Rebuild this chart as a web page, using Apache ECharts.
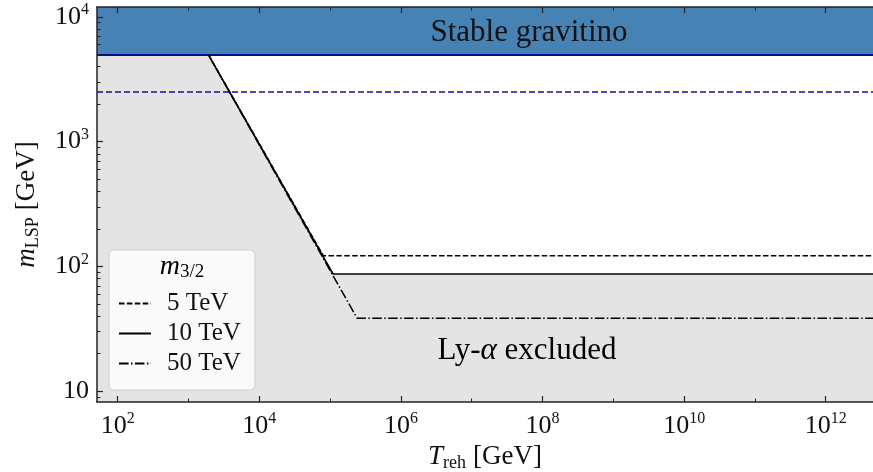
<!DOCTYPE html>
<html>
<head>
<meta charset="utf-8">
<script src="https://cdn.jsdelivr.net/npm/echarts@6/dist/echarts.min.js"></script>
<style>
  html, body { margin: 0; padding: 0; background: #fff; }
  #chart { width: 873px; height: 472px; }
</style>
</head>
<body>
<div id="chart"></div>
<script>
// Axis ranges (reheating temperature in GeV, LSP mass in GeV)
const xRange = [51, 4.65e12];
const yRange = [8.2, 12000];

// Tick values
const xMajorTicks = [1e2, 1e4, 1e6, 1e8, 1e10, 1e12];
const xMinorTicks = [1e3, 1e5, 1e7, 1e9, 1e11];
const yMajorTicks = [10, 100, 1000, 10000];
const yMinorTicks = [
  9, 20, 30, 40, 50, 60, 70, 80, 90,
  200, 300, 400, 500, 600, 700, 800, 900,
  2000, 3000, 4000, 5000, 6000, 7000, 8000, 9000
];

// Stable-gravitino region starts at this LSP mass
const gravitinoMass = 5000;
// Horizontal blue dashed reference level
const blueDashedMass = 2500;

// Boundary curves for each gravitino mass: [T_reh, m_LSP]
const legendNames = ['5 TeV', '10 TeV', '50 TeV'];
const curve5TeV = [[1.9e3, 5000], [8.0e4, 122], [4.65e12, 122]];
const curve10TeV = [[1.9e3, 5000], [1.1e5, 87], [4.65e12, 87]];
const curve50TeV = [[1.9e3, 5000], [2.4e5, 38.5], [4.65e12, 38.5]];

// Lyman-alpha excluded region (upper edge)
const lyaEdge = [[51, 5000], [1.9e3, 5000], [1.1e5, 87], [4.65e12, 87]];

const serif = '"Liberation Serif", "DejaVu Serif", serif';
const ink = '#111';

const chart = echarts.init(document.getElementById('chart'), null, { renderer: 'canvas' });

function powLabel(v) {
  const e = Math.round(Math.log10(v));
  if (e === 1) return '{b|10}';
  return '{b|10}{p|' + e + '}';
}
const tickRich = {
  b: { fontSize: 26, fontFamily: serif, color: ink, lineHeight: 30 },
  p: { fontSize: 16, fontFamily: serif, color: ink, lineHeight: 18, verticalAlign: 'top' }
};

// Axes sit above the filled regions so inward ticks stay visible
function logAxisBase(extra) {
  return Object.assign({
    type: 'log',
    logBase: 10,
    z: 10,
    splitLine: { show: false },
    minorTick: { show: false },
    minorSplitLine: { show: false }
  }, extra);
}

const spine = { show: true, lineStyle: { color: '#222', width: 1.5 } };
const majorTickStyle = { color: '#222', width: 1.2 };
const minorTickStyle = { color: '#222', width: 1 };

function tickOnlyAxis(position, range, values, len) {
  return logAxisBase({
    position: position, min: range[0], max: range[1],
    axisLine: { show: false },
    axisTick: { show: true, inside: true, length: len, customValues: values, lineStyle: minorTickStyle },
    axisLabel: { show: false }
  });
}

const axisName = {
  i: { fontSize: 27, fontFamily: serif, fontStyle: 'italic', color: ink, lineHeight: 30 },
  s: { fontSize: 18, fontFamily: serif, color: ink, lineHeight: 12, verticalAlign: 'bottom' },
  n: { fontSize: 27, fontFamily: serif, color: ink, lineHeight: 30, padding: [0, 0, 0, 7] }
};

const option = {
  animation: false,
  backgroundColor: '#fff',
  grid: { left: 97, right: 0, top: 7, bottom: 70, containLabel: false, outerBoundsMode: 'none' },
  xAxis: [
    logAxisBase({
      position: 'bottom', min: xRange[0], max: xRange[1],
      axisLine: spine,
      axisTick: { show: true, inside: true, length: 6, customValues: xMajorTicks, lineStyle: majorTickStyle },
      axisLabel: { show: true, customValues: xMajorTicks, formatter: powLabel, rich: tickRich, margin: 9 },
      name: '{i|T}{s|reh}{n|[GeV]}',
      nameLocation: 'middle', nameGap: 38,
      nameTextStyle: { rich: axisName }
    }),
    tickOnlyAxis('bottom', xRange, xMinorTicks, 3.5),
    logAxisBase({
      position: 'top', min: xRange[0], max: xRange[1],
      axisLine: spine,
      axisTick: { show: true, inside: true, length: 6, customValues: xMajorTicks, lineStyle: majorTickStyle },
      axisLabel: { show: false }
    }),
    tickOnlyAxis('top', xRange, xMinorTicks, 3.5)
  ],
  yAxis: [
    logAxisBase({
      position: 'left', min: yRange[0], max: yRange[1],
      axisLine: spine,
      axisTick: { show: true, inside: true, length: 6, customValues: yMajorTicks, lineStyle: majorTickStyle },
      axisLabel: { show: true, customValues: yMajorTicks, formatter: powLabel, rich: tickRich, margin: 8 },
      name: '{i|m}{s|LSP}{n|[GeV]}',
      nameLocation: 'middle', nameGap: 55, nameRotate: 90,
      nameTextStyle: { rich: axisName }
    }),
    tickOnlyAxis('left', yRange, yMinorTicks, 3.5)
  ],
  legend: {
    data: legendNames,
    orient: 'vertical',
    left: 109, top: 250,
    padding: [41, 14, 14, 9],
    itemWidth: 32, itemHeight: 14, itemGap: 5,
    backgroundColor: 'rgba(255,255,255,0.8)',
    borderColor: '#d0d0d0', borderWidth: 1, borderRadius: 5,
    itemStyle: { color: 'rgba(0,0,0,0)', borderWidth: 0, opacity: 0 },
    textStyle: { fontFamily: serif, fontSize: 25, color: ink, padding: [0, 0, 0, 11] },
    selectedMode: false,
    z: 20
  },
  graphic: [
    {
      type: 'text', x: 529, y: 33, z: 30, silent: true,
      style: { text: 'Stable gravitino', fontFamily: serif, fontSize: 31, fill: ink,
               align: 'center', verticalAlign: 'middle' }
    },
    {
      type: 'text', x: 527, y: 351, z: 30, silent: true,
      style: {
        text: '{n|Ly-}{i|α}{n| excluded}',
        align: 'center', verticalAlign: 'middle',
        rich: {
          n: { fontFamily: serif, fontSize: 31, color: ink },
          i: { fontFamily: serif, fontSize: 31, fontStyle: 'italic', color: ink }
        }
      }
    },
    {
      type: 'text', x: 182, y: 267, z: 30, silent: true,
      style: {
        text: '{i|m}{s|3/2}',
        align: 'center', verticalAlign: 'middle',
        rich: {
          i: { fontFamily: serif, fontSize: 28, fontStyle: 'italic', color: ink, lineHeight: 30 },
          s: { fontFamily: serif, fontSize: 19, color: ink, lineHeight: 12, verticalAlign: 'bottom' }
        }
      }
    }
  ],
  series: [
    {
      name: 'Ly-α region',
      type: 'line',
      data: lyaEdge,
      symbol: 'none',
      lineStyle: { width: 0 },
      areaStyle: { color: '#e4e4e4', opacity: 1, origin: 'start' },
      z: 1,
      silent: true,
      markArea: {
        silent: true,
        itemStyle: { color: '#4682b4', opacity: 1 },
        data: [[{ yAxis: gravitinoMass }, { yAxis: yRange[1] }]]
      },
      markLine: {
        silent: true,
        symbol: 'none',
        label: { show: false },
        data: [
          { yAxis: gravitinoMass, lineStyle: { color: '#0a0a8c', width: 2, type: 'solid' } },
          { yAxis: blueDashedMass, lineStyle: { color: '#10109a', width: 1.5, type: [6, 3] } }
        ]
      }
    },
    {
      name: '5 TeV', type: 'line', data: curve5TeV, symbol: 'none', z: 3,
      lineStyle: { color: '#000', width: 1.5, type: [5.5, 2.4] },
      itemStyle: { color: '#000' }
    },
    {
      name: '10 TeV', type: 'line', data: curve10TeV, symbol: 'none', z: 5,
      lineStyle: { color: '#000', width: 1.6, type: 'solid' },
      itemStyle: { color: '#000' }
    },
    {
      name: '50 TeV', type: 'line', data: curve50TeV, symbol: 'none', z: 4,
      lineStyle: { color: '#000', width: 1.5, type: [9.6, 2.4, 1.5, 2.4] },
      itemStyle: { color: '#000' }
    }
  ]
};

chart.setOption(option);
</script>
</body>
</html>
